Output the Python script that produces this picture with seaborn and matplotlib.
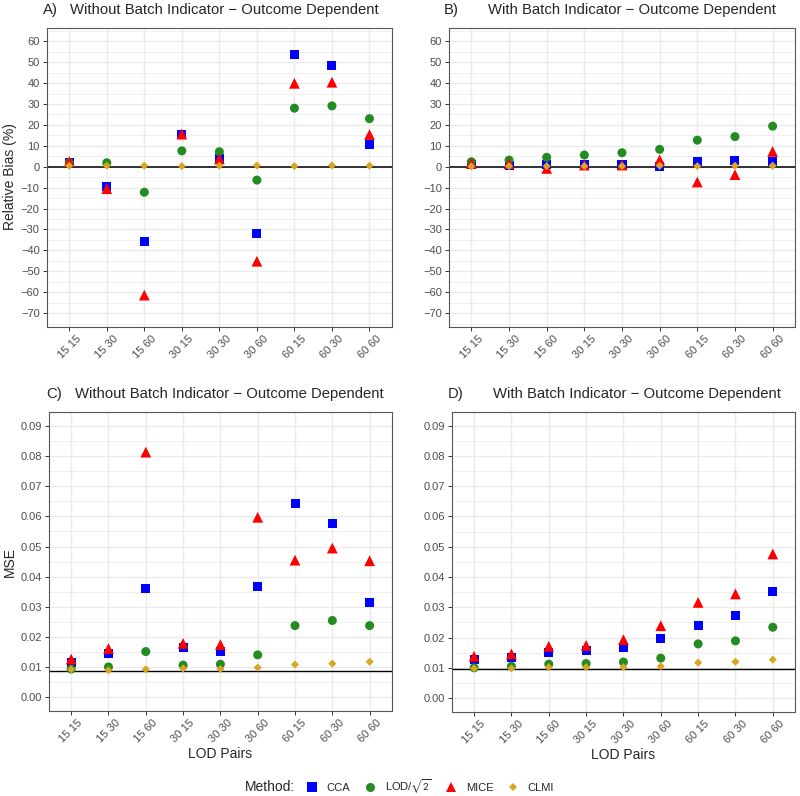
import matplotlib
matplotlib.use("Agg")
import matplotlib.pyplot as plt
from matplotlib.lines import Line2D
from matplotlib.ticker import MultipleLocator
import numpy as np
import pandas as pd
import seaborn as sns

# LOD pairs on the x axis
pairs = ["15 15", "15 30", "15 60", "30 15", "30 30", "30 60", "60 15", "60 30", "60 60"]
methods = ["CCA", "LOD/$\\sqrt{2}$", "MICE", "CLMI"]

# A) relative bias, without batch indicator
bias_a_cca = [2.2, -9.4, -35.6, 15.4, 3.8, -32.1, 53.9, 48.3, 10.6]
bias_a_lod = [2.0, 1.9, -12.2, 7.6, 7.2, -6.4, 28.0, 29.1, 23.0]
bias_a_mice = [2.5, -10.5, -61.4, 15.6, 3.7, -45.2, 39.9, 40.4, 15.4]
bias_a_clmi = [0.5, 0.5, 0.5, 0.3, 0.5, 0.6, 0.3, 0.6, 0.5]

# B) relative bias, with batch indicator
bias_b_cca = [1.0, 0.5, 1.3, 1.2, 1.0, 0.2, 2.4, 3.0, 2.7]
bias_b_lod = [2.4, 3.2, 4.5, 5.6, 6.7, 8.3, 12.7, 14.4, 19.4]
bias_b_mice = [1.6, 1.5, -0.8, 0.8, 0.8, 3.3, -7.3, -3.8, 7.3]
bias_b_clmi = [0.2, 0.3, 0.3, 0.3, 0.3, 0.5, 0.3, 0.5, 0.5]

# C) MSE, without batch indicator
mse_c_cca = [0.0116, 0.0146, 0.0362, 0.0167, 0.0152, 0.0369, 0.0644, 0.0575, 0.0315]
mse_c_lod = [0.0094, 0.0101, 0.0152, 0.0107, 0.0110, 0.0141, 0.0238, 0.0255, 0.0238]
mse_c_mice = [0.0127, 0.0162, 0.0813, 0.0179, 0.0175, 0.0597, 0.0455, 0.0495, 0.0453]
mse_c_clmi = [0.0093, 0.0090, 0.0093, 0.0096, 0.0094, 0.0099, 0.0109, 0.0112, 0.0118]

# D) MSE, with batch indicator
mse_d_cca = [0.0129, 0.0135, 0.0151, 0.0156, 0.0168, 0.0197, 0.0240, 0.0272, 0.0351]
mse_d_lod = [0.0100, 0.0105, 0.0112, 0.0114, 0.0119, 0.0132, 0.0179, 0.0189, 0.0234]
mse_d_mice = [0.0138, 0.0146, 0.0171, 0.0174, 0.0193, 0.0239, 0.0316, 0.0344, 0.0476]
mse_d_clmi = [0.0098, 0.0098, 0.0102, 0.0102, 0.0102, 0.0105, 0.0117, 0.0120, 0.0127]

ref_lines = [0, 0, 0.0089, 0.0096]

sns.set_style("white")
plt.rcParams["font.family"] = ["Liberation Sans", "DejaVu Sans"]
plt.rcParams["mathtext.fontset"] = "stixsans"

colors = {"CCA": "#0000FF", methods[1]: "#228B22", "MICE": "#FF0000", "CLMI": "#DAA520"}
markers = {"CCA": "s", methods[1]: "o", "MICE": "^", "CLMI": "D"}
sizes = {"CCA": 42, methods[1]: 42, "MICE": 60, "CLMI": 17}


def make_df(cca, lod, mice, clmi):
    df = pd.DataFrame({"pair": pairs, "CCA": cca, methods[1]: lod, "MICE": mice, "CLMI": clmi})
    df = df.melt(id_vars="pair", var_name="Method", value_name="value")
    df["x"] = df["pair"].map({p: i for i, p in enumerate(pairs)})
    return df


panels = [
    make_df(bias_a_cca, bias_a_lod, bias_a_mice, bias_a_clmi),
    make_df(bias_b_cca, bias_b_lod, bias_b_mice, bias_b_clmi),
    make_df(mse_c_cca, mse_c_lod, mse_c_mice, mse_c_clmi),
    make_df(mse_d_cca, mse_d_lod, mse_d_mice, mse_d_clmi),
]
titles = ["Without Batch Indicator \u2212 Outcome Dependent",
          "With Batch Indicator \u2212 Outcome Dependent",
          "Without Batch Indicator \u2212 Outcome Dependent",
          "With Batch Indicator \u2212 Outcome Dependent"]
letters = ["A)", "B)", "C)", "D)"]
boxes = [[0.0584, 0.5896, 0.4316, 0.3756],
         [0.561, 0.5896, 0.433, 0.3756],
         [0.061, 0.1068, 0.429, 0.3752],
         [0.5646, 0.1059, 0.4294, 0.3765]]
letter_pos = [(0.054, 0.987), (0.555, 0.987), (0.058, 0.505), (0.56, 0.505)]
title_x = [0.0875, 0.61, 0.094, 0.616]

fig = plt.figure(figsize=(8, 7.96), dpi=100)

for i, df in enumerate(panels):
    ax = fig.add_axes(boxes[i])
    ax.grid(False)
    ax.set_axisbelow(True)
    if i < 2:
        ax.set_ylim(-76.5, 66.5)
        ax.set_yticks(np.arange(-70, 61, 10))
        ax.yaxis.set_minor_locator(MultipleLocator(5))
    else:
        ax.set_ylim(-0.0045, 0.0945)
        ax.set_yticks(np.arange(0, 0.091, 0.01))
        ax.set_yticklabels([f"{v:.2f}" for v in np.arange(0, 0.091, 0.01)])
        ax.yaxis.set_minor_locator(MultipleLocator(0.005))
    ax.grid(which="major", color="#EBEBEB", lw=1.05)
    ax.grid(which="minor", axis="y", color="#EBEBEB", lw=0.55)
    ax.axhline(ref_lines[i], color="#222222" if i < 2 else "black", lw=1.3 if i < 2 else 1.0, zorder=1)
    sns.scatterplot(data=df, x="x", y="value", hue="Method", style="Method", size="Method",
                    palette=colors, markers=markers, sizes=sizes, linewidth=0,
                    legend=False, ax=ax, zorder=3)
    ax.set_xlim(-0.6, 8.6)
    ax.set_xticks(range(len(pairs)))
    ax.set_xticklabels(pairs, rotation=45, ha="center")
    ax.tick_params(axis="both", which="major", labelsize=8, labelcolor="#4D4D4D",
                   color="#333333", length=3, width=0.7, direction="out", left=True, bottom=True, pad=2)
    ax.tick_params(axis="y", which="minor", left=False)
    for sp in ax.spines.values():
        sp.set_color("#555555")
        sp.set_linewidth(0.8)
    ax.set_xlabel("LOD Pairs" if i >= 2 else "", fontsize=10, labelpad=2)
    ax.set_ylabel("", fontsize=10)
    fig.text(letter_pos[i][0], letter_pos[i][1], letters[i], fontsize=10.7, va="center", ha="left")
    fig.text(title_x[i], letter_pos[i][1], titles[i], fontsize=10.7, va="center", ha="left")

fig.text(0.0125, 0.778, "Relative Bias (%)", rotation=90, fontsize=10, va="center", ha="center")
fig.text(0.0125, 0.294, "MSE", rotation=90, fontsize=10, va="center", ha="center")

handles = [Line2D([], [], ls="none", marker=markers[m], color=colors[m], markeredgewidth=0,
                  markersize=np.sqrt(sizes[m])) for m in methods]
fig.text(0.306, 0.0113, "Method:", fontsize=10, va="center", ha="left")
fig.legend(handles, methods, loc="center", bbox_to_anchor=(0.538, 0.0113), ncol=4, frameon=False,
           fontsize=8, handlelength=1.0, handletextpad=0.8, columnspacing=1.3, borderpad=0)

fig.savefig("out.png", dpi=100)
